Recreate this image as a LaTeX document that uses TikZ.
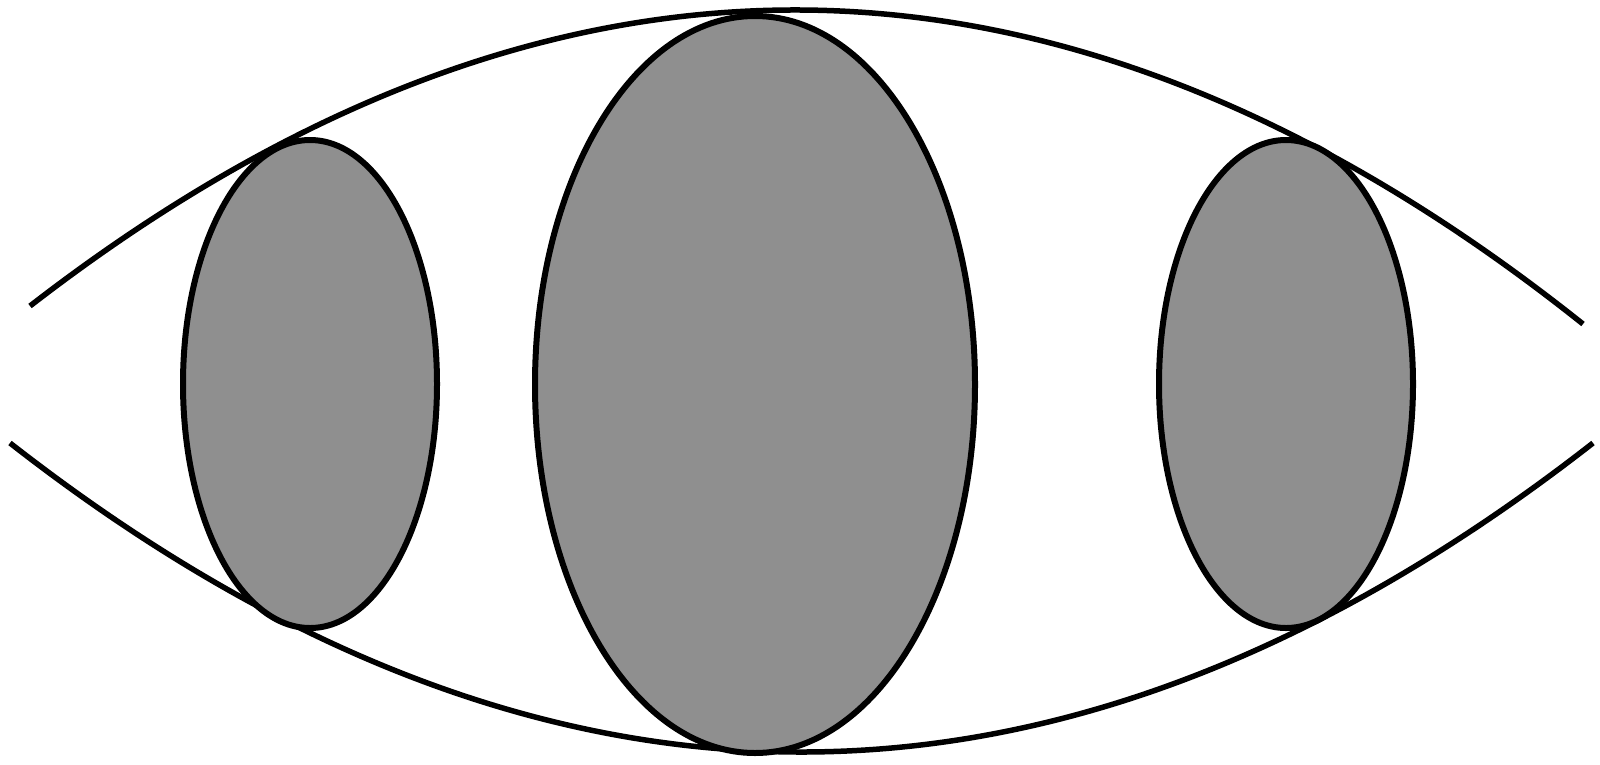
\documentclass[tikz,border=0pt]{standalone}
\begin{document}
\begin{tikzpicture}[x=1pt,y=-1pt,
  curve/.style={line width=5.5pt},
  blob/.style={line width=6pt,fill=black!44}]
\useasboundingbox[fill=white] (0,0) rectangle (1600,764);
% arcs
\draw[curve] (30,306) .. controls (547.7,-94.6) and (1065.3,-88.6) .. (1583,324);
\draw[curve] (10,443) .. controls (537.7,855) and (1065.3,855) .. (1593,443);
% ellipses
\draw[blob] (310,384) ellipse [x radius=127, y radius=244];
\draw[blob] (755,384.5) ellipse [x radius=220, y radius=368.5];
\draw[blob] (1286,384) ellipse [x radius=127, y radius=244];
\end{tikzpicture}
\end{document}
